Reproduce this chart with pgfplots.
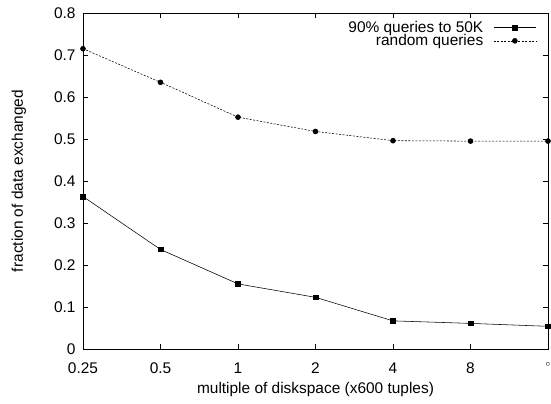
\documentclass[border=0pt]{standalone}
\usepackage{pgfplots}
\pgfplotsset{compat=1.18}
\usepackage{fontspec}
\setmainfont{Liberation Sans}
\begin{document}
\begin{tikzpicture}
\begin{axis}[
  scale only axis,
  width=465bp, height=336bp,
  xmin=0, xmax=6, ymin=0, ymax=0.8,
  xtick={0,1,2,3,4,5,6},
  xticklabels={0.25,0.5,1,2,4,8,{\raisebox{2bp}{\fontsize{9}{9}\selectfont$\circ$}}},
  ytick={0,0.1,0.2,0.3,0.4,0.5,0.6,0.7,0.8},
  yticklabels={0,0.1,0.2,0.3,0.4,0.5,0.6,0.7,0.8},
  tick align=inside,
  major tick length=5bp,
  tick style={black, line width=0.5pt},
  axis line style={line width=0.6pt},
  font=\fontsize{15.5}{17}\selectfont,
  yticklabel style={xshift=-4bp},
  xticklabel style={yshift=-10bp},
  xlabel={multiple of diskspace (x600 tuples)},
  ylabel={fraction of data exchanged},
  xlabel style={yshift=-2bp},
  ylabel style={yshift=21bp},
  legend style={draw=none, fill=none, at={(0.977,0.98)}, anchor=north east, font=\fontsize{15.5}{16}\selectfont, row sep=0pt, inner sep=1pt,
    nodes={inner sep=0.3pt},
    /tikz/every odd column/.append style={column sep=10bp}},
  legend cell align=right,
  legend plot pos=right,
  legend image code/.code={\draw[mark repeat=2,mark phase=2,#1] plot coordinates {(0bp,0bp) (21bp,0bp) (42bp,0bp)};},
]
\addplot[black, line width=0.55pt, mark=square*, mark size=2.3pt] coordinates {
(0,0.363) (1,0.237) (2,0.155) (3,0.123) (4,0.067) (5,0.061) (6,0.054)
};
\addlegendentry{90\% queries to 50K}
\addplot[black, line width=0.55pt, dash pattern=on 2pt off 1.5pt, mark=*, mark size=2.5pt, mark options={solid}] coordinates {
(0,0.715) (1,0.635) (2,0.552) (3,0.518) (4,0.496) (5,0.495) (6,0.495)
};
\addlegendentry{random queries}
\end{axis}
\pgfresetboundingbox
\path (current axis.south west) +(-83bp,-54bp);
\path (current axis.north east) +(3bp,13bp);
\end{tikzpicture}
\end{document}
